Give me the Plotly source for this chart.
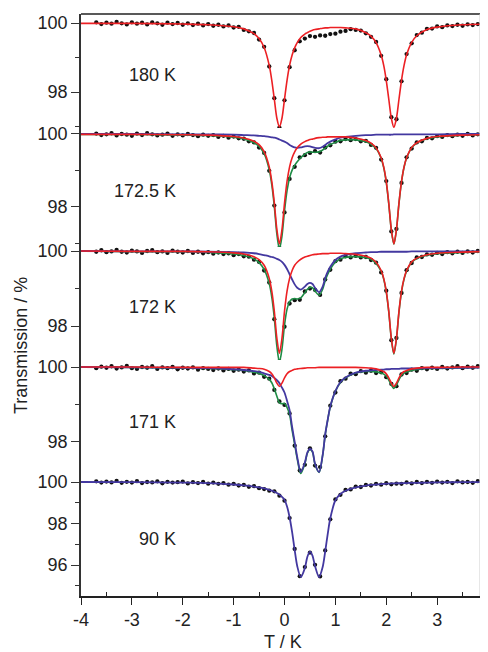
import numpy as np
import plotly.graph_objects as go
from plotly.subplots import make_subplots

# ---------------- data ----------------
labels = ["180 K", "172.5 K", "172 K", "171 K", "90 K"]

# velocity grid of the fitted curves
x_fit = [-4.0, -3.0, -2.0, -1.5, -1.0, -0.8, -0.6, -0.5, -0.4, -0.3,
         -0.25, -0.2, -0.15, -0.1, -0.05, 0.0, 0.05, 0.1, 0.15, 0.2,
         0.25, 0.32, 0.4, 0.45, 0.5, 0.55, 0.6, 0.68, 0.75, 0.8,
         0.85, 0.9, 1.0, 1.1, 1.2, 1.4, 1.6, 1.7, 1.8, 1.9,
         1.95, 2.0, 2.05, 2.1, 2.15, 2.2, 2.25, 2.3, 2.35, 2.4,
         2.5, 2.6, 2.8, 3.0, 3.5, 4.0]

# measured channels
x_data = np.round(np.arange(-3.7, 4.05, 0.1), 2)

red_180 = [99.99, 99.99, 99.97, 99.95, 99.89, 99.83, 99.69, 99.55, 99.29, 98.77,
           98.34, 97.79, 97.24, 96.99, 97.24, 97.79, 98.34, 98.77, 99.07, 99.28,
           99.43, 99.58, 99.68, 99.72, 99.76, 99.79, 99.81, 99.83, 99.85, 99.86,
           99.86, 99.87, 99.87, 99.87, 99.86, 99.83, 99.72, 99.62, 99.43, 99.07,
           98.77, 98.34, 97.79, 97.24, 96.98, 97.24, 97.79, 98.34, 98.77, 99.08,
           99.44, 99.63, 99.81, 99.88, 99.95, 99.97]

red_1725 = [99.99, 99.99, 99.98, 99.97, 99.93, 99.89, 99.80, 99.71, 99.52, 99.10,
            98.70, 98.11, 97.38, 96.99, 97.38, 98.10, 98.70, 99.10, 99.35, 99.51,
            99.62, 99.72, 99.79, 99.82, 99.85, 99.86, 99.88, 99.90, 99.91, 99.91,
            99.92, 99.92, 99.92, 99.92, 99.92, 99.89, 99.82, 99.75, 99.62, 99.35,
            99.10, 98.70, 98.10, 97.38, 96.99, 97.38, 98.11, 98.70, 99.10, 99.35,
            99.63, 99.76, 99.88, 99.93, 99.97, 99.98]
blue_1725 = [100.00, 100.00, 99.99, 99.99, 99.98, 99.97, 99.96, 99.95, 99.94, 99.92,
             99.91, 99.90, 99.88, 99.85, 99.82, 99.79, 99.75, 99.70, 99.66, 99.63,
             99.62, 99.63, 99.66, 99.67, 99.66, 99.64, 99.62, 99.61, 99.65, 99.70,
             99.75, 99.79, 99.85, 99.90, 99.92, 99.95, 99.97, 99.97, 99.98, 99.98,
             99.98, 99.98, 99.98, 99.98, 99.99, 99.99, 99.99, 99.99, 99.99, 99.99,
             99.99, 99.99, 99.99, 99.99, 100.00, 100.00]
green_1725 = [99.99, 99.99, 99.97, 99.96, 99.91, 99.86, 99.76, 99.66, 99.46, 99.02,
              98.61, 98.01, 97.26, 96.84, 97.20, 97.89, 98.45, 98.80, 99.01, 99.14,
              99.24, 99.35, 99.45, 99.49, 99.51, 99.50, 99.50, 99.51, 99.56, 99.61,
              99.67, 99.71, 99.77, 99.82, 99.84, 99.84, 99.79, 99.72, 99.60, 99.33,
              99.08, 98.68, 98.08, 97.36, 96.98, 97.37, 98.10, 98.69, 99.09, 99.34,
              99.62, 99.75, 99.87, 99.92, 99.97, 99.98]

red_172 = [100.00, 99.99, 99.99, 99.98, 99.95, 99.92, 99.85, 99.77, 99.62, 99.27,
           98.93, 98.39, 97.67, 97.27, 97.67, 98.39, 98.93, 99.27, 99.48, 99.62,
           99.70, 99.78, 99.84, 99.86, 99.88, 99.90, 99.91, 99.92, 99.93, 99.93,
           99.93, 99.94, 99.94, 99.94, 99.93, 99.91, 99.86, 99.81, 99.70, 99.48,
           99.27, 98.93, 98.39, 97.67, 97.27, 97.67, 98.39, 98.93, 99.27, 99.48,
           99.71, 99.81, 99.90, 99.94, 99.97, 99.99]
blue_172 = [100.00, 99.99, 99.99, 99.98, 99.97, 99.96, 99.94, 99.92, 99.89, 99.86,
            99.84, 99.82, 99.79, 99.76, 99.71, 99.63, 99.52, 99.38, 99.24, 99.11,
            99.02, 98.97, 99.05, 99.12, 99.15, 99.12, 99.02, 98.90, 99.05, 99.28,
            99.45, 99.58, 99.76, 99.85, 99.90, 99.94, 99.96, 99.97, 99.97, 99.98,
            99.98, 99.98, 99.98, 99.98, 99.98, 99.98, 99.98, 99.98, 99.98, 99.98,
            99.99, 99.99, 99.99, 99.99, 99.99, 99.99]
green_172 = [100.00, 99.98, 99.98, 99.96, 99.92, 99.88, 99.79, 99.69, 99.51, 99.13,
             98.77, 98.21, 97.46, 97.03, 97.38, 98.02, 98.45, 98.65, 98.72, 98.73,
             98.72, 98.75, 98.89, 98.98, 99.03, 99.02, 98.93, 98.82, 98.98, 99.21,
             99.38, 99.52, 99.70, 99.79, 99.83, 99.85, 99.82, 99.78, 99.67, 99.46,
             99.25, 98.91, 98.37, 97.65, 97.25, 97.65, 98.37, 98.91, 99.25, 99.46,
             99.70, 99.80, 99.89, 99.93, 99.96, 99.98]

red_171 = [100.00, 100.00, 99.99, 99.99, 99.99, 99.99, 99.97, 99.96, 99.94, 99.88,
           99.82, 99.71, 99.57, 99.48, 99.57, 99.71, 99.82, 99.88, 99.91, 99.94,
           99.95, 99.96, 99.97, 99.98, 99.98, 99.98, 99.98, 99.99, 99.99, 99.99,
           99.99, 99.99, 99.99, 99.99, 99.99, 99.99, 99.98, 99.97, 99.95, 99.91,
           99.88, 99.82, 99.71, 99.57, 99.48, 99.57, 99.71, 99.82, 99.88, 99.91,
           99.95, 99.97, 99.99, 99.99, 100.00, 100.00]
blue_171 = [100.00, 99.99, 99.98, 99.97, 99.94, 99.92, 99.89, 99.87, 99.83, 99.79,
            99.76, 99.71, 99.65, 99.57, 99.45, 99.32, 99.10, 98.85, 98.40, 98.00,
            97.60, 97.20, 97.45, 97.72, 97.82, 97.75, 97.42, 97.20, 97.65, 98.20,
            98.60, 98.95, 99.36, 99.60, 99.72, 99.85, 99.90, 99.91, 99.92, 99.93,
            99.93, 99.94, 99.94, 99.95, 99.95, 99.95, 99.95, 99.96, 99.96, 99.96,
            99.96, 99.96, 99.97, 99.97, 99.98, 99.99]
green_171 = [100.00, 99.99, 99.97, 99.96, 99.93, 99.91, 99.86, 99.83, 99.77, 99.67,
             99.58, 99.42, 99.22, 99.05, 99.02, 99.03, 98.92, 98.73, 98.31, 97.94,
             97.55, 97.16, 97.42, 97.70, 97.80, 97.73, 97.40, 97.19, 97.64, 98.19,
             98.59, 98.94, 99.35, 99.59, 99.71, 99.84, 99.88, 99.88, 99.87, 99.84,
             99.81, 99.76, 99.65, 99.52, 99.43, 99.52, 99.66, 99.78, 99.84, 99.87,
             99.91, 99.93, 99.96, 99.96, 99.98, 99.99]

blue_90 = [100.00, 99.99, 99.97, 99.95, 99.88, 99.84, 99.78, 99.74, 99.69, 99.62,
           99.58, 99.53, 99.47, 99.39, 99.28, 99.14, 98.82, 98.30, 97.58, 96.72,
           95.95, 95.42, 95.85, 96.40, 96.64, 96.45, 95.95, 95.42, 95.90, 96.65,
           97.50, 98.25, 99.12, 99.42, 99.58, 99.74, 99.83, 99.86, 99.88, 99.90,
           99.91, 99.92, 99.92, 99.93, 99.93, 99.94, 99.94, 99.94, 99.95, 99.95,
           99.96, 99.96, 99.97, 99.98, 99.99, 99.99]

data_180 = [100.02, 99.97, 100.01, 99.98, 100.03, 99.99, 99.96, 100.02, 99.98, 100.01,
            99.96, 100.02, 99.99, 99.95, 100.01, 99.97, 100.00, 99.95, 99.99, 99.94,
            99.98, 99.93, 99.97, 99.92, 99.95, 99.90, 99.93, 99.87, 99.89, 99.80,
            99.76, 99.71, 99.52, 99.31, 98.74, 97.82, 96.97, 97.76, 98.72, 99.21,
            99.47, 99.55, 99.62, 99.60, 99.64, 99.63, 99.68, 99.69, 99.75, 99.77,
            99.82, 99.80, 99.78, 99.70, 99.60, 99.45, 99.05, 98.37, 97.27, 97.21,
            98.31, 99.10, 99.41, 99.65, 99.72, 99.83, 99.84, 99.90, 99.88, 99.93,
            99.91, 99.95, 99.92, 99.96, 99.94, 99.97, 99.95, 99.98]
data_1725 = [100.01, 99.97, 99.99, 100.02, 99.96, 100.00, 99.98, 99.95, 100.01, 99.97,
             100.02, 99.99, 99.96, 99.98, 100.01, 99.95, 99.99, 99.96, 100.00, 99.97,
             99.94, 99.98, 99.95, 99.97, 99.92, 99.95, 99.90, 99.93, 99.88, 99.87,
             99.80, 99.77, 99.63, 99.48, 98.99, 98.04, 96.88, 97.85, 98.77, 99.10,
             99.36, 99.42, 99.48, 99.53, 99.49, 99.63, 99.69, 99.79, 99.80, 99.86,
             99.83, 99.86, 99.80, 99.81, 99.70, 99.62, 99.30, 98.71, 97.33, 97.40,
             98.66, 99.36, 99.60, 99.77, 99.80, 99.89, 99.88, 99.94, 99.92, 99.97,
             99.94, 99.98, 99.95, 100.00, 99.96, 99.99, 99.97, 100.01]
data_172 = [99.98, 100.02, 99.97, 99.99, 100.03, 99.98, 99.96, 100.01, 99.99, 99.95,
            100.00, 100.02, 99.97, 99.99, 99.95, 100.01, 99.98, 99.96, 100.00, 99.95,
            99.98, 99.94, 99.97, 99.93, 99.96, 99.92, 99.94, 99.89, 99.92, 99.86,
            99.85, 99.77, 99.71, 99.48, 99.16, 98.18, 97.06, 97.98, 98.60, 98.69,
            98.70, 98.92, 99.00, 98.96, 98.83, 99.24, 99.50, 99.73, 99.77, 99.86,
            99.83, 99.87, 99.83, 99.84, 99.76, 99.69, 99.43, 98.94, 97.62, 97.68,
            98.88, 99.49, 99.68, 99.83, 99.84, 99.91, 99.90, 99.95, 99.92, 99.97,
            99.94, 99.98, 99.95, 99.99, 99.96, 100.00, 99.97, 99.99]
data_171 = [99.97, 100.01, 99.98, 100.02, 99.96, 99.99, 100.03, 99.97, 99.95, 100.00,
            99.98, 100.02, 99.95, 99.99, 99.97, 100.00, 99.94, 99.98, 99.96, 99.99,
            99.93, 99.97, 99.95, 99.92, 99.96, 99.91, 99.95, 99.90, 99.93, 99.88,
            99.91, 99.83, 99.85, 99.74, 99.69, 99.39, 99.08, 98.99, 98.76, 97.90,
            97.24, 97.39, 97.83, 97.37, 97.33, 98.15, 98.97, 99.32, 99.62, 99.69,
            99.82, 99.81, 99.89, 99.85, 99.90, 99.84, 99.86, 99.73, 99.55, 99.49,
            99.80, 99.84, 99.93, 99.90, 99.97, 99.94, 99.98, 99.95, 100.00, 99.96,
            99.99, 100.02, 99.97, 100.01, 99.98, 100.02, 99.99, 100.01]
data_90 = [100.03, 99.97, 100.02, 99.98, 100.05, 99.96, 100.01, 99.97, 100.04, 99.95,
           100.00, 99.98, 100.03, 99.94, 100.01, 99.97, 99.99, 100.02, 99.93, 99.99,
           99.95, 100.00, 99.92, 99.97, 99.91, 99.95, 99.87, 99.91, 99.83, 99.86,
           99.77, 99.80, 99.70, 99.66, 99.58, 99.55, 99.34, 99.10, 98.26, 96.77,
           95.46, 95.90, 96.60, 96.01, 95.45, 96.70, 98.20, 99.16, 99.38, 99.62,
           99.64, 99.78, 99.76, 99.86, 99.83, 99.91, 99.87, 99.94, 99.89, 99.92,
           99.91, 99.98, 99.93, 100.00, 99.95, 100.01, 99.96, 100.02, 99.97, 100.01,
           99.95, 100.03, 99.98, 100.00, 99.96, 100.04, 99.97, 100.02]

panels = [
    dict(data=data_180, green=None, blue=None, red=red_180),
    dict(data=data_1725, green=green_1725, blue=blue_1725, red=red_1725),
    dict(data=data_172, green=green_172, blue=blue_172, red=red_172),
    dict(data=data_171, green=green_171, blue=blue_171, red=red_171),
    dict(data=data_90, green=None, blue=blue_90, red=None),
]

# ---------------- figure ----------------
# the page body has an 8 px margin, so the figure is laid out 8 px smaller
OFF = 8
W, H = 480, 644
ML, MR, MT, MB = 81 - OFF, 0, 14 - OFF, 56
plot_h = H - MT - MB
plot_w = W - ML - MR

def py(px):  # window pixel row -> paper y
    return (H - MB - (px - OFF)) / plot_h

def pxx(px):  # window pixel col -> paper x
    return (px - OFF - ML) / plot_w

bounds = [14, 128, 247, 360, 476, 596]
yranges = [(96.957, 100.261), (96.904, 100.164), (97.093, 100.107),
           (97.093, 100.187), (94.506, 100.289)]
major = [[98, 100], [98, 100], [98, 100], [98, 100], [96, 98, 100]]
minor = [[97, 99], [97, 99], [99], [99], [95, 97, 99]]

RED = "#ec2024"
BLUE = "#4338a0"
GREEN = "#1e8c45"
INK = "#222222"
FONT = "Liberation Sans, Arial, sans-serif"
FS = 18

fig = make_subplots(rows=5, cols=1, shared_xaxes=True, vertical_spacing=0)

for i, p in enumerate(panels):
    r = i + 1
    fig.add_trace(go.Scatter(x=x_data, y=p["data"], mode="markers",
                             marker=dict(color="#111111", size=4.3),
                             showlegend=False, hoverinfo="skip"), row=r, col=1)
    for key, col, w in (("green", GREEN, 1.6), ("blue", BLUE, 1.8), ("red", RED, 1.6)):
        if p[key] is not None:
            fig.add_trace(go.Scatter(x=x_fit, y=p[key], mode="lines",
                                     line=dict(color=col, width=w, shape="spline", smoothing=0.8),
                                     showlegend=False, hoverinfo="skip"), row=r, col=1)
    fig.update_yaxes(row=r, col=1,
                     domain=[py(bounds[i + 1]), py(bounds[i])],
                     range=list(yranges[i]),
                     tickvals=major[i], ticktext=[str(v) for v in major[i]],
                     ticks="outside", ticklen=8, tickwidth=1.2, tickcolor="#333",
                     showline=True, linecolor="#333", linewidth=1.5,
                     showgrid=False, zeroline=False,
                     tickfont=dict(family=FONT, size=FS, color=INK),
                     minor=dict(tickvals=minor[i], ticks="outside", ticklen=4,
                                tickwidth=1.2, tickcolor="#333", showgrid=False))

xt = [-4, -3, -2, -1, 0, 1, 2, 3, 4]
fig.update_xaxes(range=[-4, 4], showgrid=False, zeroline=False)
for r in range(1, 5):
    fig.update_xaxes(row=r, col=1, showticklabels=False, ticks="", showline=False)
fig.update_xaxes(row=5, col=1, showline=True, linecolor=INK, linewidth=1.5,
                 tickvals=xt, ticktext=[str(v) for v in xt],
                 ticks="outside", ticklen=7, tickwidth=1.2, tickcolor=INK,
                 tickfont=dict(family=FONT, size=FS, color=INK),
                 minor=dict(tickvals=[v + 0.5 for v in xt[:-1]], ticks="inside",
                            ticklen=4, tickwidth=1.2, tickcolor=INK, showgrid=False))

# frame: top border and faint right edge
fig.add_shape(type="line", xref="paper", yref="paper", x0=0, x1=1, y0=1, y1=1,
              line=dict(color=INK, width=1.5))
fig.add_shape(type="line", xref="paper", yref="paper", x0=pxx(480), x1=pxx(480), y0=0, y1=1,
              line=dict(color="#cfcfcf", width=1))

label_rows = [75, 191, 307, 422, 539]
for lab, yy in zip(labels, label_rows):
    fig.add_annotation(text=lab, xref="paper", yref="paper", x=pxx(178), y=py(yy),
                       xanchor="right", yanchor="middle", showarrow=False,
                       font=dict(family=FONT, size=FS, color=INK))

fig.add_annotation(text="T / K", xref="paper", yref="paper", x=pxx(283), y=py(642),
                   xanchor="center", yanchor="middle", showarrow=False,
                   font=dict(family=FONT, size=FS, color=INK))
fig.add_annotation(text="Transmission / %", xref="paper", yref="paper", x=pxx(21), y=py(346),
                   xanchor="center", yanchor="middle", textangle=-90, showarrow=False,
                   font=dict(family=FONT, size=FS, color=INK))

fig.update_layout(width=W, height=H, margin=dict(l=ML, r=MR, t=MT, b=MB),
                  paper_bgcolor="white", plot_bgcolor="white")

fig.write_html("out.html")
